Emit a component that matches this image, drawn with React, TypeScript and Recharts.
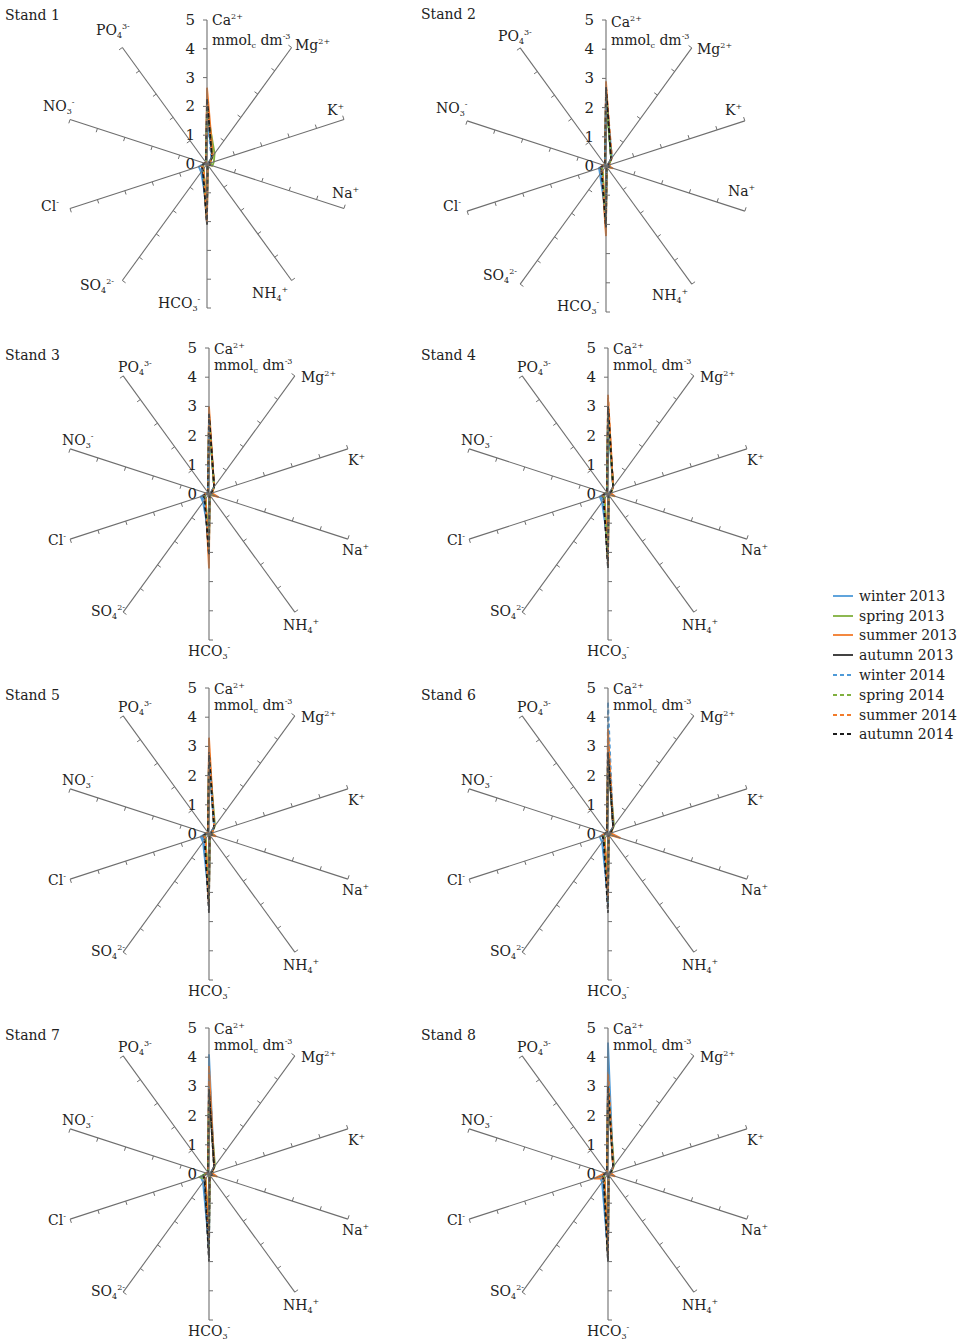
import React from "react";
import { RadarChart, PolarAngleAxis, PolarRadiusAxis, Radar } from "recharts";

// ion axes, clockwise from the top
const ions = ["Ca", "Mg", "K", "Na", "NH4", "HCO3", "SO4", "Cl", "NO3", "PO4"];
const seasons = [
  "winter 2013",
  "spring 2013",
  "summer 2013",
  "autumn 2013",
  "winter 2014",
  "spring 2014",
  "summer 2014",
  "autumn 2014",
];
const seasonColors = ["#4e9ad8", "#80b03e", "#f27b2b", "#2e2e2e", "#4e9ad8", "#80b03e", "#f27b2b", "#1c1c1c"];
const seasonDashed = [false, false, false, false, true, true, true, true];
const radiusTicks = [0, 1, 2, 3, 4, 5];

// one row per season, columns follow `ions` (mmolc dm-3)
const stand1 = [
  [1.7, 0.3, 0.05, 0.1, 0.03, 1.5, 0.35, 0.3, 0.08, 0.05],
  [1.9, 0.45, 0.25, 0.2, 0.03, 1.8, 0.2, 0.15, 0.08, 0.05],
  [2.65, 0.35, 0.1, 0.15, 0.03, 2.0, 0.2, 0.2, 0.1, 0.05],
  [2.2, 0.3, 0.08, 0.1, 0.03, 2.1, 0.25, 0.2, 0.08, 0.05],
  [1.8, 0.25, 0.05, 0.1, 0.03, 1.6, 0.3, 0.25, 0.08, 0.05],
  [2.0, 0.35, 0.15, 0.15, 0.03, 1.9, 0.2, 0.15, 0.08, 0.05],
  [2.3, 0.3, 0.1, 0.15, 0.03, 2.0, 0.2, 0.2, 0.1, 0.05],
  [2.25, 0.3, 0.08, 0.1, 0.03, 2.1, 0.25, 0.2, 0.08, 0.05],
];
const stand2 = [
  [2.5, 0.35, 0.05, 0.1, 0.03, 1.7, 0.35, 0.25, 0.1, 0.05],
  [2.3, 0.3, 0.1, 0.15, 0.03, 1.9, 0.2, 0.15, 0.08, 0.05],
  [2.9, 0.3, 0.1, 0.2, 0.03, 2.4, 0.25, 0.2, 0.1, 0.05],
  [2.6, 0.3, 0.08, 0.1, 0.03, 2.1, 0.25, 0.2, 0.08, 0.05],
  [2.4, 0.3, 0.05, 0.1, 0.03, 1.8, 0.3, 0.25, 0.08, 0.05],
  [2.4, 0.3, 0.1, 0.15, 0.03, 2.0, 0.2, 0.15, 0.08, 0.05],
  [2.7, 0.35, 0.1, 0.25, 0.03, 2.3, 0.2, 0.2, 0.1, 0.05],
  [2.7, 0.3, 0.08, 0.1, 0.03, 2.1, 0.25, 0.2, 0.08, 0.05],
];
const stand3 = [
  [2.5, 0.3, 0.05, 0.1, 0.03, 1.4, 0.35, 0.3, 0.1, 0.05],
  [2.6, 0.3, 0.1, 0.15, 0.03, 1.9, 0.2, 0.15, 0.08, 0.05],
  [3.0, 0.3, 0.1, 0.35, 0.03, 2.55, 0.2, 0.2, 0.1, 0.05],
  [2.7, 0.3, 0.08, 0.1, 0.03, 2.0, 0.25, 0.2, 0.08, 0.05],
  [2.6, 0.3, 0.05, 0.1, 0.03, 1.6, 0.3, 0.25, 0.08, 0.05],
  [2.6, 0.3, 0.1, 0.15, 0.03, 1.9, 0.2, 0.15, 0.08, 0.05],
  [2.8, 0.3, 0.1, 0.2, 0.03, 2.2, 0.2, 0.2, 0.1, 0.05],
  [2.75, 0.3, 0.08, 0.1, 0.03, 2.1, 0.25, 0.2, 0.08, 0.05],
];
const stand4 = [
  [2.6, 0.3, 0.05, 0.1, 0.03, 1.7, 0.35, 0.3, 0.1, 0.05],
  [2.7, 0.3, 0.1, 0.15, 0.03, 2.2, 0.2, 0.15, 0.08, 0.05],
  [3.3, 0.3, 0.1, 0.25, 0.03, 2.3, 0.2, 0.2, 0.1, 0.05],
  [3.0, 0.3, 0.08, 0.1, 0.03, 2.4, 0.25, 0.2, 0.08, 0.05],
  [2.7, 0.3, 0.05, 0.1, 0.03, 1.9, 0.3, 0.25, 0.08, 0.05],
  [2.8, 0.3, 0.1, 0.15, 0.03, 2.2, 0.2, 0.15, 0.08, 0.05],
  [3.4, 0.3, 0.1, 0.2, 0.03, 2.4, 0.2, 0.2, 0.1, 0.05],
  [3.0, 0.3, 0.08, 0.1, 0.03, 2.55, 0.25, 0.2, 0.08, 0.05],
];
const stand5 = [
  [2.6, 0.3, 0.05, 0.1, 0.03, 2.2, 0.35, 0.3, 0.1, 0.05],
  [2.7, 0.35, 0.1, 0.15, 0.03, 2.3, 0.2, 0.15, 0.08, 0.05],
  [3.3, 0.3, 0.1, 0.25, 0.03, 2.4, 0.2, 0.2, 0.1, 0.05],
  [2.8, 0.3, 0.08, 0.1, 0.03, 2.5, 0.25, 0.2, 0.08, 0.05],
  [2.6, 0.3, 0.05, 0.1, 0.03, 2.2, 0.3, 0.25, 0.08, 0.05],
  [2.7, 0.3, 0.1, 0.15, 0.03, 2.3, 0.2, 0.15, 0.08, 0.05],
  [3.0, 0.3, 0.1, 0.2, 0.03, 2.4, 0.2, 0.2, 0.1, 0.05],
  [2.7, 0.3, 0.08, 0.1, 0.03, 2.7, 0.25, 0.2, 0.08, 0.05],
];
const stand6 = [
  [3.2, 0.3, 0.05, 0.1, 0.03, 2.2, 0.35, 0.3, 0.1, 0.05],
  [2.7, 0.35, 0.1, 0.15, 0.03, 2.2, 0.2, 0.15, 0.08, 0.05],
  [3.6, 0.3, 0.1, 0.45, 0.03, 1.6, 0.2, 0.2, 0.1, 0.05],
  [2.8, 0.3, 0.08, 0.1, 0.03, 2.5, 0.25, 0.2, 0.08, 0.05],
  [4.5, 0.3, 0.05, 0.1, 0.03, 2.4, 0.3, 0.25, 0.08, 0.05],
  [2.8, 0.3, 0.1, 0.15, 0.03, 2.3, 0.2, 0.15, 0.08, 0.05],
  [3.5, 0.3, 0.1, 0.2, 0.03, 2.2, 0.2, 0.25, 0.1, 0.05],
  [2.8, 0.3, 0.08, 0.1, 0.03, 2.7, 0.25, 0.2, 0.08, 0.05],
];
const stand7 = [
  [4.1, 0.3, 0.05, 0.1, 0.03, 2.5, 0.35, 0.3, 0.1, 0.05],
  [2.8, 0.35, 0.1, 0.15, 0.03, 2.4, 0.2, 0.35, 0.08, 0.05],
  [3.7, 0.3, 0.1, 0.3, 0.03, 1.95, 0.2, 0.2, 0.1, 0.05],
  [2.9, 0.3, 0.08, 0.1, 0.03, 2.8, 0.25, 0.2, 0.08, 0.05],
  [3.6, 0.3, 0.05, 0.1, 0.03, 2.5, 0.3, 0.25, 0.08, 0.05],
  [2.9, 0.3, 0.1, 0.15, 0.03, 2.5, 0.2, 0.3, 0.08, 0.05],
  [3.6, 0.3, 0.1, 0.25, 0.03, 2.3, 0.2, 0.2, 0.1, 0.05],
  [2.9, 0.3, 0.08, 0.1, 0.03, 3.0, 0.25, 0.2, 0.08, 0.05],
];
const stand8 = [
  [4.5, 0.3, 0.05, 0.1, 0.03, 2.7, 0.35, 0.3, 0.1, 0.05],
  [3.0, 0.35, 0.1, 0.15, 0.03, 2.7, 0.2, 0.2, 0.08, 0.05],
  [3.5, 0.3, 0.1, 0.25, 0.03, 2.8, 0.2, 0.5, 0.1, 0.05],
  [3.0, 0.3, 0.08, 0.1, 0.03, 2.9, 0.25, 0.2, 0.08, 0.05],
  [3.8, 0.3, 0.05, 0.1, 0.03, 2.8, 0.3, 0.25, 0.08, 0.05],
  [3.0, 0.3, 0.1, 0.15, 0.03, 2.8, 0.2, 0.15, 0.08, 0.05],
  [3.4, 0.3, 0.1, 0.2, 0.03, 2.8, 0.2, 0.3, 0.1, 0.05],
  [3.0, 0.3, 0.08, 0.1, 0.03, 3.0, 0.25, 0.2, 0.08, 0.05],
];

const FONT = "'DejaVu Serif', serif";
const AXIS = "#6e6e6e";
const W = 420;
const H = 360;
const CX = 210;
const CY = 180;

// label text pieces: [base, subscript, superscript]
const ionText: Record<string, [string, string, string]> = {
  Ca: ["Ca", "", "2+"],
  Mg: ["Mg", "", "2+"],
  K: ["K", "", "+"],
  Na: ["Na", "", "+"],
  NH4: ["NH", "4", "+"],
  HCO3: ["HCO", "3", "-"],
  SO4: ["SO", "4", "2-"],
  Cl: ["Cl", "", "-"],
  NO3: ["NO", "3", "-"],
  PO4: ["PO", "4", "3-"],
};

// label offsets from the chart centre (left edge, baseline)
const layoutA: Record<string, number[]> = {
  Ca: [5, -139], unit: [5, -119], Mg: [88, -114], K: [120, -49], Na: [125, 34],
  NH4: [45, 134], HCO3: [-49, 144], SO4: [-127, 126], Cl: [-166, 47], NO3: [-164, -53], PO4: [-111, -129],
};
const layoutB: Record<string, number[]> = {
  Ca: [5, -139], unit: [5, -121], Mg: [91, -112], K: [119, -51], Na: [122, 30],
  NH4: [46, 134], HCO3: [-49, 145], SO4: [-123, 114], Cl: [-163, 45], NO3: [-170, -53], PO4: [-108, -125],
};
const layoutC: Record<string, number[]> = {
  Ca: [5, -140], unit: [5, -124], Mg: [92, -112], K: [139, -29], Na: [133, 61],
  NH4: [74, 136], HCO3: [-21, 162], SO4: [-118, 122], Cl: [-161, 51], NO3: [-147, -49], PO4: [-91, -122],
};

const stands = [
  { title: "Stand 1", rows: stand1, x: 207, y: 164, r: 144, layout: layoutA, tx: 5, ty: 6 },
  { title: "Stand 2", rows: stand2, x: 606, y: 166, r: 146, layout: layoutB, tx: 421, ty: 5 },
  { title: "Stand 3", rows: stand3, x: 209, y: 494, r: 146, layout: layoutC, tx: 5, ty: 346 },
  { title: "Stand 4", rows: stand4, x: 608, y: 494, r: 146, layout: layoutC, tx: 421, ty: 346 },
  { title: "Stand 5", rows: stand5, x: 209, y: 834, r: 146, layout: layoutC, tx: 5, ty: 686 },
  { title: "Stand 6", rows: stand6, x: 608, y: 834, r: 146, layout: layoutC, tx: 421, ty: 686 },
  { title: "Stand 7", rows: stand7, x: 209, y: 1174, r: 146, layout: layoutC, tx: 5, ty: 1026 },
  { title: "Stand 8", rows: stand8, x: 608, y: 1174, r: 146, layout: layoutC, tx: 421, ty: 1026 },
];

const IonLabel = ({ x, y, ion }: { x: number; y: number; ion: string }) => {
  const [base, sub, sup] = ionText[ion];
  return (
    <text x={x} y={y} fontSize={14} fill="#222" fontFamily={FONT}>
      <tspan>{base}</tspan>
      {sub ? (
        <tspan fontSize={8} dy={3}>
          {sub}
        </tspan>
      ) : null}
      {sup ? (
        <tspan fontSize={8} dy={sub ? -9 : -6}>
          {sup}
        </tspan>
      ) : null}
    </text>
  );
};

const StandChart = ({ rows, r, layout }: { rows: number[][]; r: number; layout: Record<string, number[]> }) => {
  const data = ions.map((ion, i) => {
    const point: { [key: string]: any } = { ion };
    rows.forEach((row, s) => {
      point[`s${s}`] = row[i];
    });
    return point;
  });

  // spoke, tick marks and ion label for each axis
  const renderAngleTick = (props: any) => {
    const { payload } = props;
    const theta = (payload.coordinate * Math.PI) / 180;
    const dx = Math.cos(theta);
    const dy = -Math.sin(theta);
    // tick marks sit on the counter-clockwise side of each spoke
    const px = -Math.sin(theta);
    const py = -Math.cos(theta);
    const ion = payload.value as string;
    const pos = layout[ion];
    return (
      <g>
        <line x1={CX} y1={CY} x2={CX + dx * r} y2={CY + dy * r} stroke={AXIS} strokeWidth={1.1} />
        {radiusTicks.slice(1).map((t) => {
          const d = (r * t) / 5;
          const x0 = CX + dx * d;
          const y0 = CY + dy * d;
          return <line key={t} x1={x0} y1={y0} x2={x0 + px * 4} y2={y0 + py * 4} stroke={AXIS} strokeWidth={1} />;
        })}
        <IonLabel x={CX + pos[0]} y={CY + pos[1]} ion={ion} />
        {ion === "Ca" ? (
          <text x={CX + layout.unit[0]} y={CY + layout.unit[1]} fontSize={14} fill="#222" fontFamily={FONT}>
            <tspan>mmol</tspan>
            <tspan fontSize={8} dy={3}>c</tspan>
            <tspan dy={-3}> dm</tspan>
            <tspan fontSize={8} dy={-6}>-3</tspan>
          </text>
        ) : null}
      </g>
    );
  };

  const renderRadiusTick = (props: any) => {
    const { x, y, payload } = props;
    return (
      <text x={x - 12} y={y + 5} textAnchor="end" fontSize={15} fill="#222" fontFamily={FONT}>
        {payload.value}
      </text>
    );
  };

  return (
    <RadarChart
      width={W}
      height={H}
      cx={CX}
      cy={CY}
      outerRadius={r}
      data={data}
      margin={{ top: 0, right: 0, bottom: 0, left: 0 }}
    >
      <PolarAngleAxis dataKey="ion" tick={renderAngleTick} axisLine={false} tickLine={false} />
      <PolarRadiusAxis
        angle={90}
        type="number"
        domain={[0, 5]}
        ticks={radiusTicks as any}
        tickCount={6}
        axisLine={false}
        tick={renderRadiusTick}
      />
      {seasons.map((name, s) => (
        <Radar
          key={name}
          name={name}
          dataKey={`s${s}`}
          stroke={seasonColors[s]}
          strokeWidth={1.8}
          strokeDasharray={seasonDashed[s] ? "4 3" : undefined}
          fill="none"
          fillOpacity={0}
          dot={false}
          isAnimationActive={false}
        />
      ))}
    </RadarChart>
  );
};

const App = () => {
  return (
    <div style={{ position: "absolute", left: 0, top: 0, width: 968, height: 1343, background: "#fff", fontFamily: FONT }}>
      {stands.map((st) => (
        <React.Fragment key={st.title}>
          <div style={{ position: "absolute", left: st.x - CX, top: st.y - CY }}>
            <StandChart rows={st.rows} r={st.r} layout={st.layout} />
          </div>
          <div style={{ position: "absolute", left: st.tx, top: st.ty, fontSize: 14, color: "#222", lineHeight: "18px" }}>
            {st.title}
          </div>
        </React.Fragment>
      ))}
      <div style={{ position: "absolute", left: 832, top: 586 }}>
        {seasons.map((name, s) => (
          <div key={name} style={{ display: "flex", alignItems: "center", height: 19.8, fontSize: 14, color: "#222" }}>
            <svg width={22} height={10} style={{ marginRight: 5 }}>
              <line
                x1={1}
                y1={5}
                x2={21}
                y2={5}
                stroke={seasonColors[s]}
                strokeWidth={1.8}
                strokeDasharray={seasonDashed[s] ? "4 3" : undefined}
              />
            </svg>
            <span>{name}</span>
          </div>
        ))}
      </div>
    </div>
  );
};

export default App;
